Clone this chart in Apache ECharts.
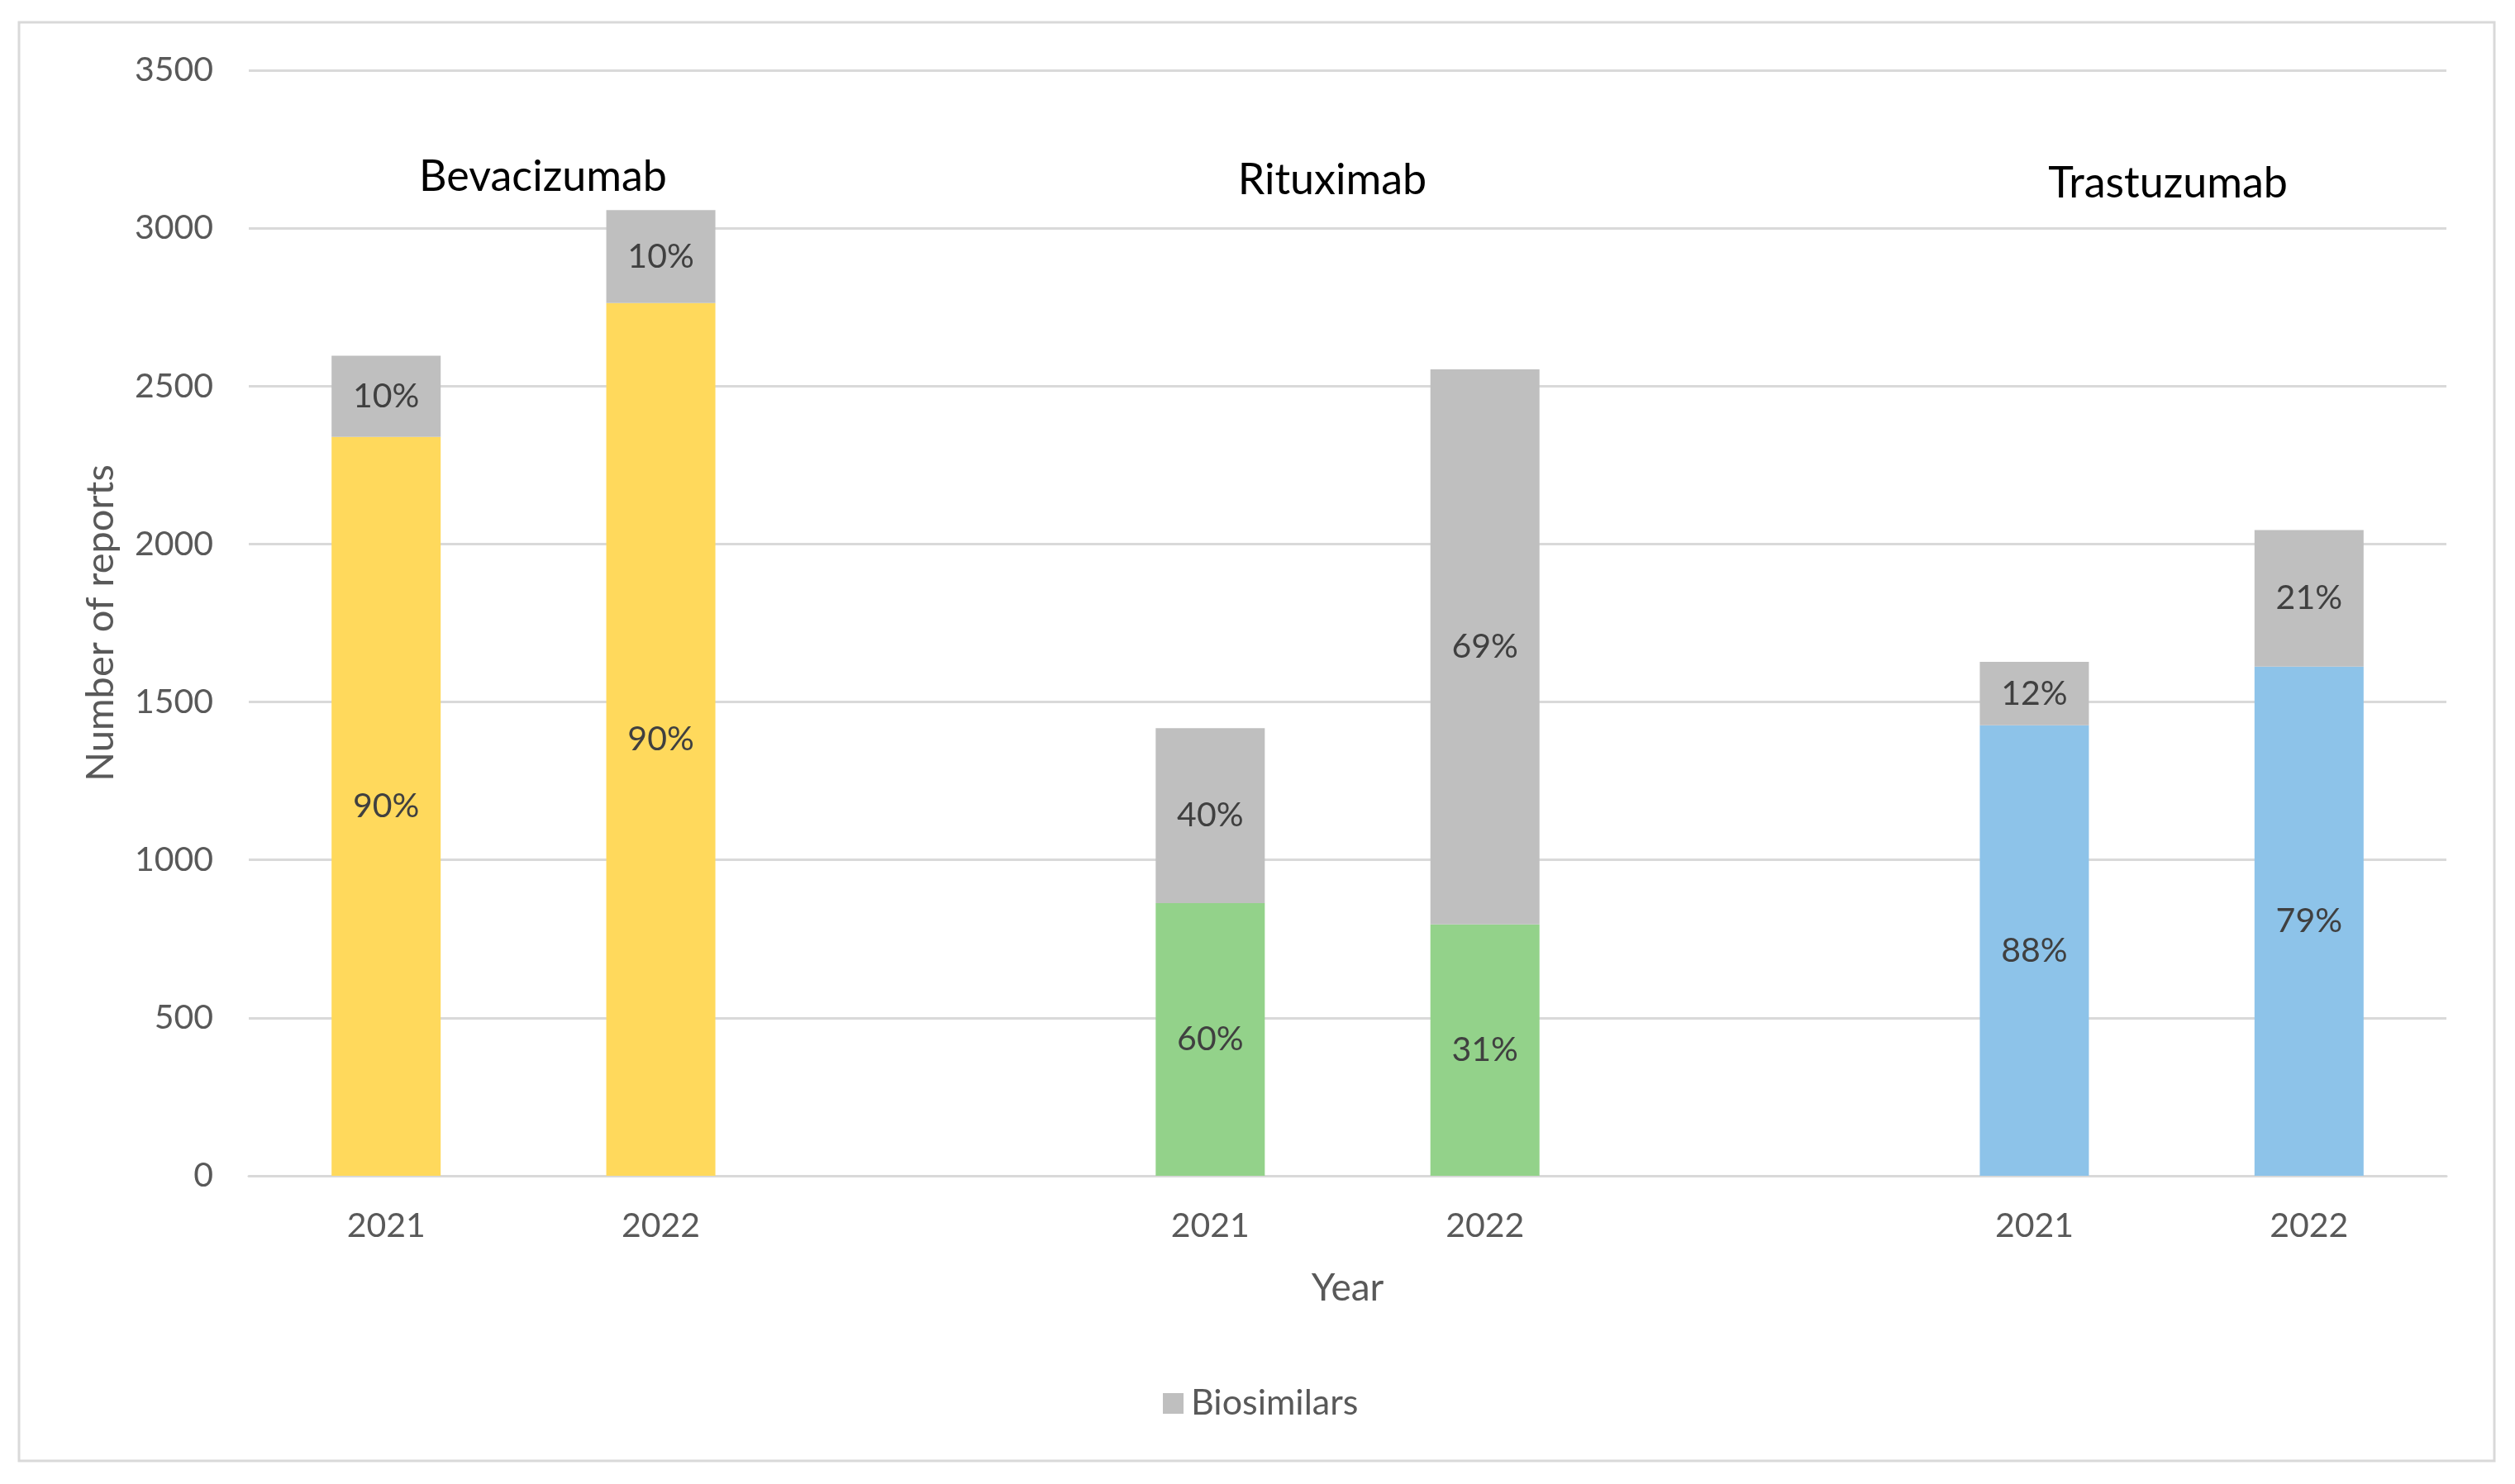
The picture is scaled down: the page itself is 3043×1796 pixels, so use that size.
<!DOCTYPE html>
<html>
<head>
<meta charset="utf-8">
<script src="https://cdn.jsdelivr.net/npm/echarts@6/dist/echarts.min.js"></script>
<style>html,body{margin:0;padding:0;background:#fff;}#c{width:3043px;height:1796px;}</style>
</head>
<body>
<div id="c"></div>
<script>
// ---- data ----
const products = ['Bevacizumab', 'Rituximab', 'Trastuzumab'];
const years = ['2021', '2022'];
const bevacizumabOriginator = [2339, 2763];
const bevacizumabBiosimilar = [257, 294];
const rituximabOriginator = [863, 796];
const rituximabBiosimilar = [554, 1757];
const trastuzumabOriginator = [1426, 1612];
const trastuzumabBiosimilar = [201, 432];
const originatorPct = ['90%', '90%', '60%', '31%', '88%', '79%'];
const biosimilarPct = ['10%', '10%', '40%', '69%', '12%', '21%'];
const yTicks = { min: 0, max: 3500, interval: 500 };
const productColors = ['#FFD95C', '#93D28A', '#8DC3E9'];
const biosimilarColor = '#BFBFBF';

// ---- build category slots (blank separator between products) ----
const originatorAll = [bevacizumabOriginator, rituximabOriginator, trastuzumabOriginator];
const biosimilarAll = [bevacizumabBiosimilar, rituximabBiosimilar, trastuzumabBiosimilar];
const categories = [];
const origData = [];
const bioData = [];
let k = 0;
products.forEach((p, i) => {
  if (i > 0) {
    categories.push('');
    origData.push('-');
    bioData.push('-');
  }
  years.forEach((y, j) => {
    categories.push(y);
    origData.push({ value: originatorAll[i][j], itemStyle: { color: productColors[i] }, pct: originatorPct[k] });
    bioData.push({ value: biosimilarAll[i][j], pct: biosimilarPct[k] });
    k++;
  });
});

const FONT = 'Lato';
const chart = echarts.init(document.getElementById('c'), null, { renderer: 'canvas' });
const labelStyle = {
  show: true,
  position: 'inside',
  color: '#404040',
  fontFamily: FONT,
  fontSize: 41,
  formatter: p => p.data && p.data.pct ? p.data.pct : ''
};
const titleStyle = { fontFamily: FONT, fontSize: 52, fontWeight: 'normal', color: '#000000' };

chart.setOption({
  animation: false,
  backgroundColor: '#ffffff',
  title: [
    { text: products[0], left: 652, top: 209, textAlign: 'center', textVerticalAlign: 'middle', textStyle: titleStyle },
    { text: products[1], left: 1607, top: 213, textAlign: 'center', textVerticalAlign: 'middle', textStyle: titleStyle },
    { text: products[2], left: 2618, top: 217, textAlign: 'center', textVerticalAlign: 'middle', textStyle: titleStyle }
  ],
  graphic: [{
    type: 'rect',
    shape: { x: 23, y: 27, width: 2995, height: 1741 },
    style: { fill: 'none', stroke: '#D9D9D9', lineWidth: 3 },
    silent: true
  }],
  legend: {
    data: ['Biosimilars'],
    left: 1402,
    top: 1672,
    icon: 'rect',
    itemWidth: 25,
    itemHeight: 25,
    textStyle: { fontFamily: FONT, fontSize: 43, color: '#595959', padding: [0, 0, 0, 4] }
  },
  grid: { left: 301, right: 83, top: 85, bottom: 373, containLabel: false },
  xAxis: {
    type: 'category',
    data: categories,
    name: 'Year',
    nameLocation: 'middle',
    nameGap: 113,
    nameTextStyle: { fontFamily: FONT, fontSize: 46, color: '#595959' },
    axisLine: { show: true, lineStyle: { color: '#D9D9D9', width: 3 } },
    axisTick: { show: false },
    axisLabel: { fontFamily: FONT, fontSize: 41, color: '#595959', margin: 40, interval: 0 }
  },
  yAxis: {
    type: 'value',
    min: yTicks.min,
    max: yTicks.max,
    interval: yTicks.interval,
    name: 'Number of reports',
    nameLocation: 'middle',
    nameGap: 156,
    nameTextStyle: { fontFamily: FONT, fontSize: 47, color: '#595959' },
    axisLine: { show: false },
    axisTick: { show: false },
    axisLabel: { fontFamily: FONT, fontSize: 41, color: '#595959', margin: 43, formatter: v => String(v) },
    splitLine: { show: true, lineStyle: { color: '#D9D9D9', width: 3 } }
  },
  series: [
    {
      name: 'Originator',
      type: 'bar',
      stack: 'total',
      barWidth: 132,
      data: origData,
      label: labelStyle
    },
    {
      name: 'Biosimilars',
      type: 'bar',
      stack: 'total',
      barWidth: 132,
      data: bioData,
      itemStyle: { color: biosimilarColor },
      label: labelStyle
    }
  ]
});
</script>
</body>
</html>
